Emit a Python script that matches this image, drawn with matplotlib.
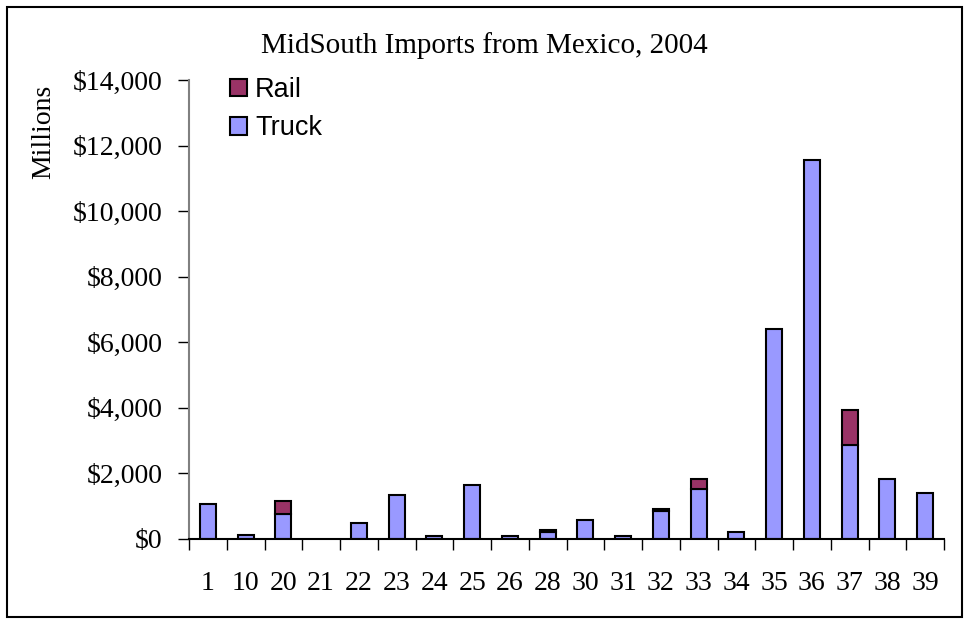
import numpy as np
import matplotlib.pyplot as plt
from matplotlib.patches import Rectangle

# data (millions of dollars)
categories = ['1', '10', '20', '21', '22', '23', '24', '25', '26', '28',
              '30', '31', '32', '33', '34', '35', '36', '37', '38', '39']
truck = [1060, 120, 760, 0, 480, 1350, 90, 1650, 90, 210,
         580, 90, 850, 1530, 220, 6400, 11550, 2860, 1840, 1400]
rail = [0, 0, 410, 0, 0, 0, 0, 0, 0, 70,
        0, 0, 70, 310, 0, 0, 0, 1070, 0, 0]

fig = plt.figure(figsize=(9.69, 6.24), dpi=100)
ax = fig.add_axes([189 / 969, 85 / 624, (944 - 189) / 969, (539 - 80) / 624])

x = np.arange(len(categories))
t = np.array(truck)
r = np.array(rail)
w = 0.43
# skip zero-height boxes so they don't leave a flat outline
ax.bar(x[t > 0], t[t > 0], w, color='#9999FF', edgecolor='black', linewidth=1.5, label='Truck')
ax.bar(x[r > 0], r[r > 0], w, bottom=t[r > 0], color='#993366', edgecolor='black',
       linewidth=1.5, label='Rail')

ax.set_xlim(-0.5, len(categories) - 0.5)
ax.set_ylim(0, 14000)
ax.set_yticks(np.arange(0, 14001, 2000))
ax.set_yticklabels(['${:,}'.format(v) for v in range(0, 14001, 2000)])
ax.set_xticks(x)
ax.set_xticklabels(categories)
ax.set_xticks(np.arange(-0.5, len(categories), 1), minor=True)
ax.tick_params(axis='x', which='major', length=0, pad=23)
ax.tick_params(axis='x', which='minor', length=8, width=1, direction='out')
ax.tick_params(axis='y', length=8, width=1, direction='out', pad=11)

serif = 'Liberation Serif'
for lab in ax.get_xticklabels() + ax.get_yticklabels():
    lab.set_fontfamily(serif)
    lab.set_fontsize(20)

ax.spines['top'].set_visible(False)
ax.spines['right'].set_visible(False)
ax.spines['left'].set_color('#808080')
ax.spines['left'].set_linewidth(1.5)
ax.spines['bottom'].set_linewidth(1.5)

fig.text(44 / 969, 1 - 132 / 624, 'Millions', rotation=90, ha='center', va='center',
         fontfamily=serif, fontsize=20)
fig.text(0.5, 1 - 46 / 624, 'MidSouth Imports from Mexico, 2004', ha='center', va='center',
         fontfamily=serif, fontsize=21)

handles, labels = ax.get_legend_handles_labels()
leg = fig.legend(handles[::-1], labels[::-1], loc='upper left',
                 bbox_to_anchor=(230 / 969, 1 - 77 / 624), frameon=False,
                 borderpad=0, borderaxespad=0,
                 prop={'family': 'Liberation Sans', 'size': 19.5},
                 handlelength=0.63, handleheight=0.63, handletextpad=0.3, labelspacing=0.45)

# outer chart border
fig.patches.append(Rectangle((7 / 969, 7 / 624), 955 / 969, 610 / 624,
                             transform=fig.transFigure, fill=False,
                             edgecolor='black', linewidth=1.5))

plt.savefig('out.png', dpi=100)
